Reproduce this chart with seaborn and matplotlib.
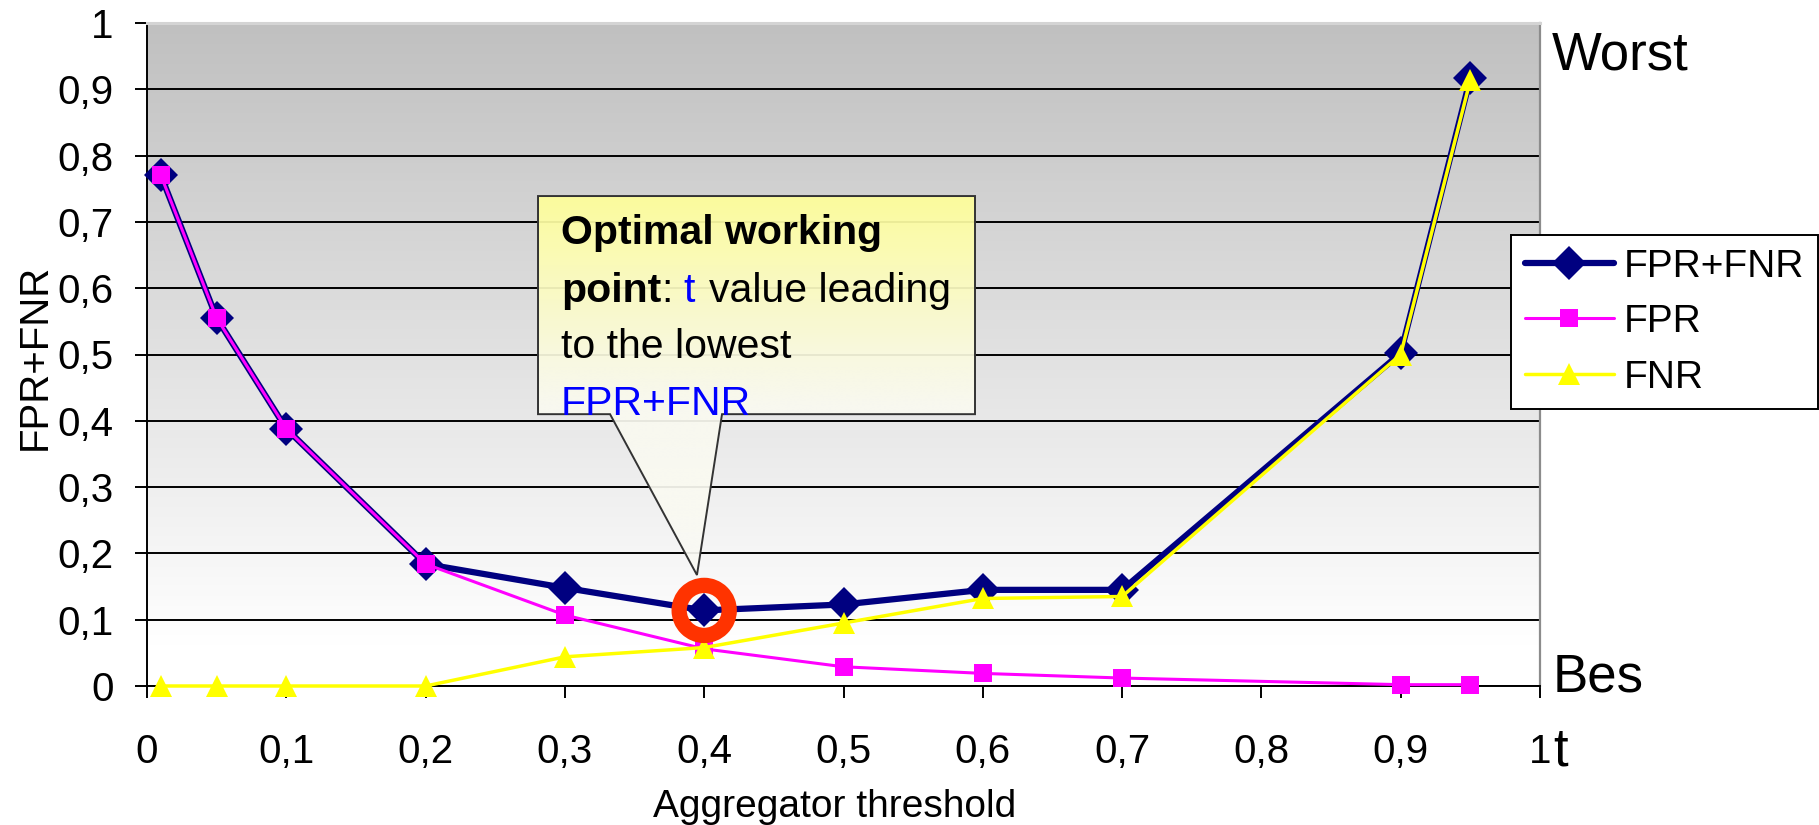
import numpy as np
import matplotlib
matplotlib.use("Agg")
import matplotlib.pyplot as plt
import seaborn as sns
from matplotlib.path import Path
from matplotlib.patches import PathPatch
from matplotlib.colors import LinearSegmentedColormap

# ---------------- data ----------------
thresholds = [0.01, 0.05, 0.1, 0.2, 0.3, 0.4, 0.5, 0.6, 0.7, 0.9, 0.95]
fpr_fnr = [0.770, 0.555, 0.388, 0.184, 0.148, 0.114, 0.123, 0.145, 0.145, 0.502, 0.917]
fpr = [0.770, 0.555, 0.388, 0.184, 0.107, 0.056, 0.029, 0.019, 0.012, 0.002, 0.002]
fnr = [0.0, 0.0, 0.0, 0.0, 0.044, 0.058, 0.095, 0.132, 0.135, 0.500, 0.914]
series_names = ["FPR+FNR", "FPR", "FNR"]
series_colors = ["#000080", "#ff00ff", "#ffff00"]
tick_values = [0, 0.1, 0.2, 0.3, 0.4, 0.5, 0.6, 0.7, 0.8, 0.9, 1.0]
tick_labels = ["0", "0,1", "0,2", "0,3", "0,4", "0,5", "0,6", "0,7", "0,8", "0,9", "1"]

# ---------------- style ----------------
sns.set_style("white")
plt.rcParams["font.family"] = ["Liberation Sans", "DejaVu Sans"]
for key in ["text.color", "axes.labelcolor", "xtick.color", "ytick.color"]:
    plt.rcParams[key] = "black"

W, H = 1819, 825
fig = plt.figure(figsize=(W / 100, H / 100), dpi=100)
fig.patch.set_facecolor("white")
ax = fig.add_axes([147 / W, 1 - 686 / H, 1393 / W, 663 / H])

# gradient background (white at bottom -> grey at top)
bg_cmap = LinearSegmentedColormap.from_list(
    "bg", [(0.0, "#ffffff"), (0.06, "#ffffff"), (1.0, "#c0c0c0")])
grad = np.linspace(0, 1, 512).reshape(-1, 1)
ax.imshow(grad, extent=[0, 1, 0, 1], origin="lower", aspect="auto",
          cmap=bg_cmap, zorder=0, interpolation="bilinear")

# ---------------- series ----------------
sns.lineplot(x=thresholds, y=fpr_fnr, ax=ax, color=series_colors[0], lw=4.5,
             marker="D", ms=17, markeredgecolor=series_colors[0],
             markeredgewidth=0, label=series_names[0], zorder=3, clip_on=False)
sns.lineplot(x=thresholds, y=fpr, ax=ax, color=series_colors[1], lw=2.2,
             marker="s", ms=13, markeredgecolor=series_colors[1],
             markeredgewidth=0, label=series_names[1], zorder=3.1, clip_on=False)
sns.lineplot(x=thresholds, y=fnr, ax=ax, color=series_colors[2], lw=2.5,
             marker="^", ms=16, markeredgecolor=series_colors[2],
             markeredgewidth=0, label=series_names[2], zorder=3.2, clip_on=False)

# highlight of the optimal point
best = int(np.argmin(fpr_fnr))
ax.scatter([thresholds[best]], [fpr_fnr[best]], s=1300, facecolors="none",
           edgecolors="#ff3300", linewidths=11, zorder=8)

# ---------------- axes ----------------
ax.set_xlim(0, 1)
ax.set_ylim(0, 1)
ax.set_xticks(tick_values)
ax.set_xticklabels(tick_labels)
ax.set_yticks(tick_values)
ax.set_yticklabels(tick_labels)
ax.tick_params(axis="y", direction="out", length=8.6, width=1.4, color="black",
               pad=15.5, labelsize=29, left=True, right=False, labelcolor="black")
ax.tick_params(axis="x", direction="out", length=8.6, width=1.4, color="black",
               pad=25, labelsize=29, bottom=True, top=False, labelcolor="black")
ax.set_axisbelow(True)
ax.yaxis.grid(True, color="black", lw=1.4)
ax.xaxis.grid(False)

for side in ["left", "bottom"]:
    ax.spines[side].set_color("black")
    ax.spines[side].set_linewidth(1.4)
ax.spines["right"].set_color("#8c8c8c")
ax.spines["right"].set_linewidth(1.6)
ax.spines["top"].set_color("#d4d4d4")
ax.spines["top"].set_linewidth(2.2)
ax.spines["top"].set_zorder(3)

ax.set_xlabel("Aggregator threshold", fontsize=28, va="baseline", color="black")
ax.xaxis.set_label_coords(0.4939, -0.1976)
ax.set_ylabel("FPR+FNR", fontsize=29, va="center", color="black")
ax.yaxis.set_label_coords(-0.0805, 0.497)

# ---------------- legend ----------------
leg = ax.legend(loc="upper left", bbox_to_anchor=(1511 / W, 1 - 235 / H),
                bbox_transform=fig.transFigure, borderaxespad=0, fontsize=28,
                frameon=True, fancybox=False, edgecolor="black", framealpha=1,
                handlelength=2.3, handletextpad=0.26, borderpad=0.35,
                labelspacing=0.5)
leg.get_frame().set_linewidth(1.4)
leg.set_zorder(20)
for txt in leg.get_texts():
    txt.set_color("black")

# ---------------- callout ----------------
L, R, T, B = 0.2807, 0.5944, 0.739, 0.410
pb1, pb2, tip = 0.3324, 0.4128, (0.3948, 0.1674)
verts = [(L, T), (R, T), (R, B), (pb2, B), tip, (pb1, B), (L, B), (L, T)]
codes = [Path.MOVETO] + [Path.LINETO] * 6 + [Path.CLOSEPOLY]
callout_path = Path(verts, codes)
outline = PathPatch(callout_path, facecolor="none", edgecolor="#333333",
                    lw=1.4, zorder=6)
ax.add_patch(outline)
co_cmap = LinearSegmentedColormap.from_list(
    "co", [(0.0, "#fafaf4"), (0.45, "#fafaf0"), (0.55, "#fafae4"), (1.0, "#ffff99")])
co_img = ax.imshow(grad, extent=[L, R, tip[1], T], origin="lower", aspect="auto",
                   cmap=co_cmap, zorder=5, alpha=0.93, interpolation="bilinear")
clip_patch = PathPatch(callout_path, transform=ax.transData, facecolor="none",
                       edgecolor="none")
co_img.set_clip_path(clip_patch)
ax.set_xlim(0, 1)
ax.set_ylim(0, 1)

fs_c = 29.5
tx = 0.2972
ax.text(tx, 0.6667, "Optimal working", fontsize=fs_c, weight="bold",
        va="baseline", ha="left", zorder=7, color="black")
p1 = ax.text(tx, 0.579, "point", fontsize=fs_c, weight="bold",
             va="baseline", ha="left", zorder=7, color="black")
p2 = ax.annotate(":", xy=(1, 0), xycoords=p1, xytext=(0, 0),
                 textcoords="offset points", fontsize=fs_c, va="bottom",
                 ha="left", zorder=7, color="black")
p3 = ax.annotate("t", xy=(1, 0), xycoords=p2, xytext=(7.5, 0),
                 textcoords="offset points", fontsize=fs_c, va="bottom",
                 ha="left", color="#0000ff", zorder=7)
ax.annotate("value leading", xy=(1, 0), xycoords=p3, xytext=(10.5, 0),
            textcoords="offset points", fontsize=fs_c, va="bottom",
            ha="left", zorder=7, color="black")
ax.text(tx, 0.4947, "to the lowest", fontsize=fs_c, va="baseline",
        ha="left", zorder=7, color="black")
ax.text(tx, 0.4087, "FPR+FNR", fontsize=fs_c, va="baseline", ha="left",
        color="#0000ff", zorder=7)

# ---------------- side labels ----------------
fig.text(1552 / W, 1 - 70 / H, "Worst", fontsize=38, va="baseline", ha="left",
         color="black")
fig.text(1553 / W, 1 - 692 / H, "Bes", fontsize=38, va="baseline", ha="left",
         color="black")
fig.text(1553 / W, 1 - 765 / H, "t", fontsize=38, va="baseline", ha="left",
         color="black")

fig.savefig("out.png", dpi=100)
